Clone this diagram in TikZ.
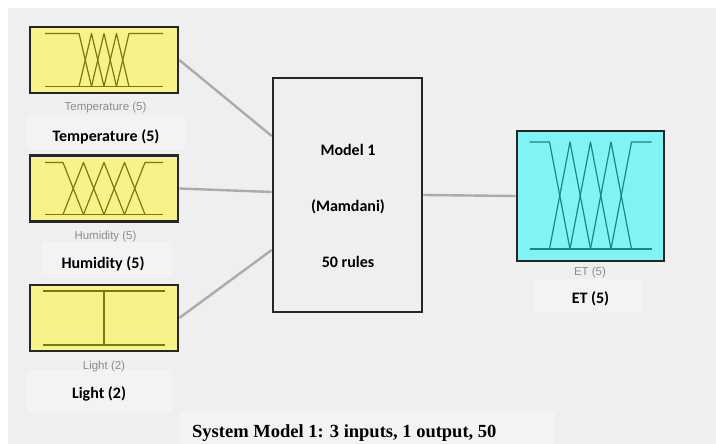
\documentclass[tikz,border=0pt]{standalone}
\usepackage{fontspec}
\setmainfont{Carlito}
\newfontfamily\smallsans{Liberation Sans}
\newfontfamily\capserif{Liberation Serif}
\definecolor{bggray}{HTML}{EFEFEF}
\definecolor{panel}{HTML}{F3F3F3}
\definecolor{mfyellow}{HTML}{F7F38A}
\definecolor{mfcyan}{HTML}{80F4F4}
\definecolor{olive}{HTML}{7A7A12}
\definecolor{teal2}{HTML}{1C8585}
\definecolor{wire}{HTML}{ABABAB}
\definecolor{smallgray}{HTML}{8C8C8C}
\tikzset{
  fisbox/.style={draw=black!85, line width=2.6pt, inner sep=0pt},
  inbox/.style={fisbox, fill=mfyellow, minimum width=148pt, minimum height=66pt},
  outbox/.style={fisbox, fill=mfcyan, minimum width=147pt, minimum height=130pt},
  modelbox/.style={fisbox, fill=bggray, minimum width=149pt, minimum height=234pt},
  wireline/.style={draw=wire, line width=2.4pt},
  mfin/.style={draw=olive, line width=1.2pt, line join=round},
  mfout/.style={draw=teal2, line width=1.2pt, line join=round},
  boldlab/.style={font=\fontsize{16}{19}\selectfont\bfseries, inner sep=0pt},
  smalllab/.style={font=\smallsans\fontsize{11.5}{13}\selectfont, text=smallgray, inner sep=0pt},
  caption/.style={font=\capserif\fontsize{18.5}{22}\selectfont\bfseries, inner sep=0pt}
}
\begin{document}
\begin{tikzpicture}[x=1pt,y=-1pt]
\useasboundingbox (0,0) rectangle (716,444);
\fill[white] (0,0) rectangle (716,444);
\fill[bggray] (8,8) rectangle (716,444);
% faint label panels
\fill[panel] (27,115) rectangle (185,150);
\fill[panel] (42,242) rectangle (172,276);
\fill[panel] (27,370) rectangle (172,412);
\fill[panel] (535,279) rectangle (643,312);
\fill[panel] (180,412) rectangle (555,444);

% nodes
\node[inbox] (temp) at (104,60) {};
\node[inbox] (hum) at (104,188.5) {};
\node[inbox] (light) at (104,318) {};
\node[modelbox] (model) at (347.5,195) {};
\node[outbox] (et) at (590.5,196) {};

% connectors
\draw[wireline] (temp.east) -- ([yshift=59pt]model.west);
\draw[wireline] (hum.east) -- ([yshift=3pt]model.west);
\draw[wireline] (light.east) -- ([yshift=-55pt]model.west);
\draw[wireline] (model.east) -- (et.west);
% redraw boxes on top of wire ends
\node[inbox] at (temp) {};
\node[inbox] at (hum) {};
\node[inbox] at (light) {};
\node[modelbox] at (model) {};
\node[outbox] at (et) {};

% Temperature MFs
\begin{scope}[shift={(temp.center)}]
  \draw[mfin] (-59,26.5) -- (59,26.5);
  \draw[mfin] (-59,-26.5) -- (-25,-26.5) -- (-12.5,26.5);
  \draw[mfin] (-25,26.5) -- (-12.5,-26.5) -- (0,26.5);
  \draw[mfin] (-12.5,26.5) -- (0,-26.5) -- (12.5,26.5);
  \draw[mfin] (0,26.5) -- (12.5,-26.5) -- (25,26.5);
  \draw[mfin] (12.5,26.5) -- (25,-26.5) -- (59,-26.5);
\end{scope}
% Humidity MFs
\begin{scope}[shift={(hum.center)}]
  \draw[mfin] (-59,26) -- (59,26);
  \draw[mfin] (-59,-26) -- (-41,-26) -- (-20.5,26);
  \draw[mfin] (-41,26) -- (-20.5,-26) -- (0,26);
  \draw[mfin] (-20.5,26) -- (0,-26) -- (20.5,26);
  \draw[mfin] (0,26) -- (20.5,-26) -- (41,26);
  \draw[mfin] (20.5,26) -- (41,-26) -- (59,-26);
\end{scope}
% Light MFs
\begin{scope}[shift={(light.center)}]
  \draw[mfin] (-61,27) -- (61,27);
  \draw[mfin] (-61,-27) -- (61,-27);
  \draw[mfin] (0,-27) -- (0,27);
\end{scope}
% ET MFs
\begin{scope}[shift={(et.center)}]
  \draw[mfout] (-61,53) -- (61,53);
  \draw[mfout] (-61,-54) -- (-41,-54) -- (-20.5,53);
  \draw[mfout] (-41,53) -- (-20.5,-54) -- (0,53);
  \draw[mfout] (-20.5,53) -- (0,-54) -- (20.5,53);
  \draw[mfout] (0,53) -- (20.5,-54) -- (41,53);
  \draw[mfout] (20.5,53) -- (41,-54) -- (61,-54);
\end{scope}

% small gray labels
\node[smalllab] (tempsl) at (105.5,108) {Temperature (5)};
\node[smalllab] (humsl) at (105.5,237) {Humidity (5)};
\node[smalllab] (lightsl) at (104,367) {Light (2)};
\node[smalllab] (etsl) at (590,273) {ET (5)};

% bold labels
\node[boldlab] (templ) at (106,137) {Temperature (5)};
\node[boldlab] (huml) at (103,264) {Humidity (5)};
\node[boldlab] (lightl) at (99,394) {Light (2)};
\node[boldlab] (etl) at (590.5,299) {ET (5)};

% model text
\node[boldlab] (m1) at (348,150) {Model 1};
\node[boldlab] (m2) at (348,207) {(Mamdani)};
\node[boldlab] (m3) at (348,262) {50 rules};

% caption
\node[caption, anchor=west] (cap) at (192,433) {System Model 1: 3 inputs, 1 output, 50};
\end{tikzpicture}
\end{document}
